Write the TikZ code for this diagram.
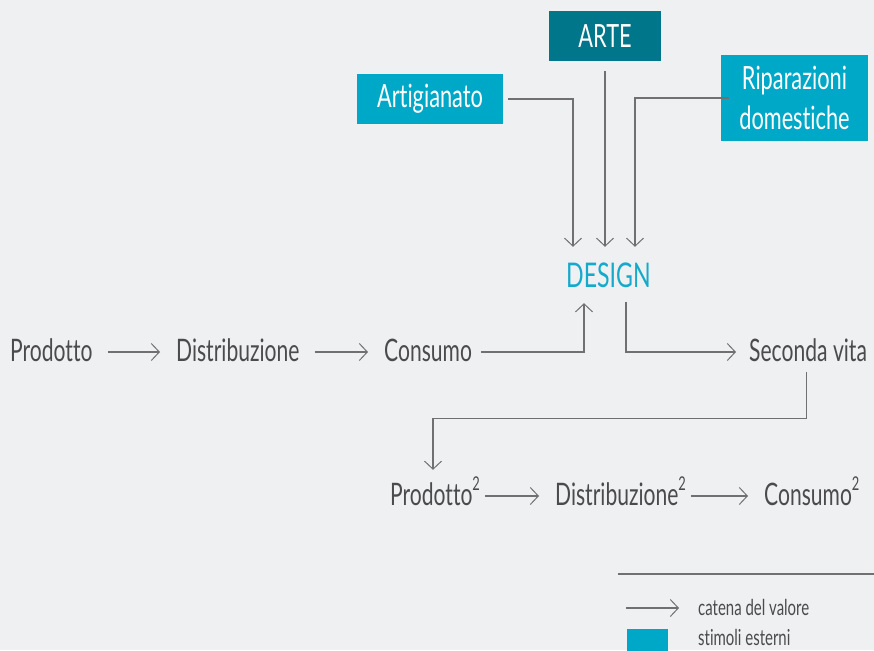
\documentclass[tikz,border=0pt]{standalone}
\usepackage{fontspec}
\setmainfont[FakeStretch=0.68, Ligatures=NoCommon]{Lato}
\usetikzlibrary{arrows.meta}
\definecolor{bgpaper}{HTML}{EFF0F2}
\definecolor{inkgray}{HTML}{4B4B4D}
\definecolor{linegray}{HTML}{707072}
\definecolor{cyanbox}{HTML}{00A8C8}
\definecolor{tealbox}{HTML}{00768A}
\definecolor{designcyan}{HTML}{15AACB}
\tikzset{
  word/.style={inner xsep=0pt, inner ysep=0pt, text height=22pt, text depth=4pt,
    anchor=base west, text=inkgray, font=\fontsize{31}{33}\selectfont},
  smallword/.style={inner sep=0pt, anchor=base west, text=inkgray,
    font=\fontsize{22}{24}\selectfont},
  stimbox/.style={fill=cyanbox, text=white, inner sep=0pt, align=center,
    font=\fontsize{32}{40}\selectfont},
  flow/.style={draw=linegray, line width=1.1pt,
    -{Straight Barb[length=8pt, width=17pt, line width=1pt]}},
  feed/.style={flow, shorten <=5pt, shorten >=17pt},
  chain/.style={flow, shorten <=15pt, shorten >=16pt},
}
\newcommand{\sqmark}{\raisebox{15pt}{\fontsize{19}{20}\selectfont 2}}
\begin{document}
\begin{tikzpicture}[x=1pt, y=-1pt]
  \useasboundingbox (0,0) rectangle (874,650);
  \fill[bgpaper] (0,0) rectangle (874,650);

  % external stimuli
  \node[stimbox, fill=tealbox, minimum width=112pt, minimum height=50pt] (arte) at (605,36) {ARTE};
  \node[stimbox, minimum width=146pt, minimum height=50pt] (art) at (430,99) {Artigianato};
  \node[stimbox, minimum width=147pt, minimum height=86pt] (rip) at (794.5,98)
    {Riparazioni\\domestiche};

  % design hub
  \node[inner sep=0pt, text height=23pt, text depth=0pt, anchor=base west,
    text=designcyan, font=\fontsize{34}{36}\selectfont] (design) at (566,287) {DESIGN};

  % value chain
  \node[word] (p1) at (10,361) {Prodotto};
  \node[word] (d1) at (176,361) {Distribuzione};
  \node[word] (c1) at (384,361) {Consumo};
  \node[word] (sv) at (749,361) {Seconda vita};

  \node[word] (p2) at (390,505) {Prodotto\sqmark};
  \node[word] (d2) at (555,505) {Distribuzione\sqmark};
  \node[word] (c2) at (764,505) {Consumo\sqmark};

  % connectors
  \draw[feed] (art.east) -| ([xshift=7pt]design.north west);
  \draw[flow, shorten <=10pt, shorten >=17pt] (arte.south) -- (arte.south |- design.north);
  \draw[feed, shorten <=-8pt] (rip.west) -| ([xshift=69pt]design.north west);

  \draw[chain] (p1.east) -- (d1.west);
  \draw[chain] (d1.east) -- (c1.west);
  \draw[flow, shorten <=9pt] (c1.east) -| ([xshift=18pt,yshift=-16pt]design.south west);
  \draw[flow, shorten >=13pt] ([xshift=60pt,yshift=-15pt]design.south west) |- (sv.west);
  \draw[flow, shorten <=7pt, shorten >=13pt] (sv.south) ++(-2,0) -- ++(0,53)
    -| ([xshift=43pt]p2.north west);
  \draw[chain, shorten <=5pt] (p2.east) -- (d2.west);
  \draw[chain, shorten <=5pt] (d2.east) -- (c2.west);

  % legend
  \draw[linegray, line width=1.1pt] (618,574) -- (874,574);
  \node[smallword] (leg1) at (698,615) {catena del valore};
  \node[smallword] (leg2) at (698,645) {stimoli esterni};
  \coordinate (legstart) at (626,608);
  \draw[flow, shorten >=19pt] (legstart) -- (legstart -| leg1.west);
  \node[fill=cyanbox, inner sep=0pt, minimum width=41pt, minimum height=23pt] (swatch) at (647.5,640.5) {};
\end{tikzpicture}
\end{document}
